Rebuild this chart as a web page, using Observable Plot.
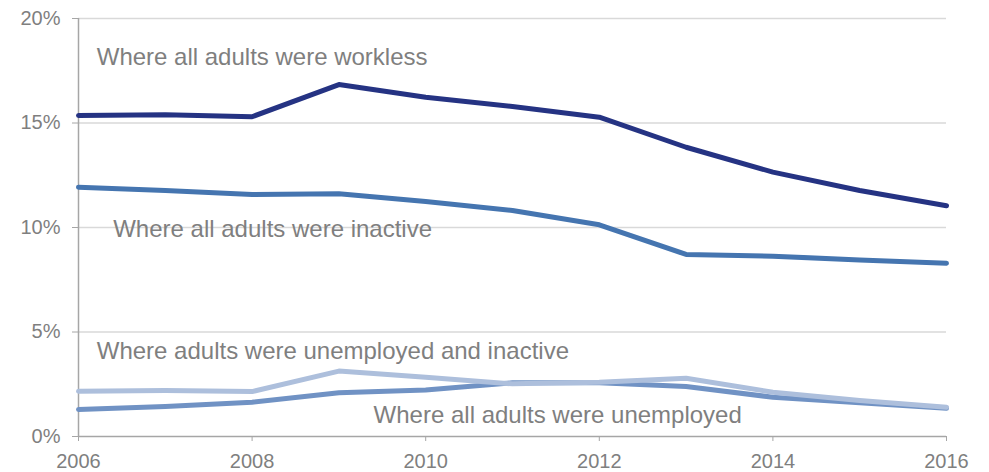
<!DOCTYPE html>
<html>
<head>
<meta charset="utf-8">
<script src="https://cdn.jsdelivr.net/npm/d3@7"></script>
<script src="https://cdn.jsdelivr.net/npm/@observablehq/plot@0.6"></script>
<style>
  html, body { margin: 0; padding: 0; background: #fff; }
  #chart svg { display: block; }
</style>
</head>
<body>
<div id="chart"></div>
<script>
const years = [2006, 2007, 2008, 2009, 2010, 2011, 2012, 2013, 2014, 2015, 2016];
const workless = [15.36, 15.40, 15.30, 16.84, 16.23, 15.79, 15.28, 13.84, 12.65, 11.77, 11.04];
const inactive = [11.93, 11.77, 11.58, 11.61, 11.24, 10.81, 10.13, 8.71, 8.63, 8.45, 8.29];
const unemployedInactive = [2.17, 2.20, 2.15, 3.13, 2.84, 2.52, 2.60, 2.79, 2.12, 1.72, 1.40];
const unemployed = [1.29, 1.43, 1.64, 2.09, 2.23, 2.57, 2.57, 2.39, 1.88, 1.61, 1.35];

const seriesNames = ["Where all adults were inactive", "Where all adults were workless", "Where all adults were unemployed", "Where adults were unemployed and inactive"];
const seriesColors = ["#4575b0", "#253383", "#7092c4", "#adbfdc"];
const seriesValues = [inactive, workless, unemployed, unemployedInactive];

// label anchors (data units: year, percent)
const labelTexts = ["Where all adults were workless", "Where all adults were inactive", "Where adults were unemployed and inactive", "Where all adults were unemployed"];
const labelYears = [2006.21, 2006.40, 2006.21, 2009.40];
const labelValues = [18.13, 9.9, 4.07, 1.0];

const yTicks = [0, 5, 10, 15, 20];
const xTicks = [2006, 2008, 2010, 2012, 2014, 2016];

const rows = [];
seriesNames.forEach((name, i) => {
  years.forEach((yr, j) => rows.push({series: name, year: yr, value: seriesValues[i][j], color: seriesColors[i]}));
});
const labels = labelTexts.map((t, i) => ({text: t, year: labelYears[i], value: labelValues[i]}));

const chart = Plot.plot({
  width: 989,
  height: 472,
  marginLeft: 78,
  marginRight: 43,
  marginTop: 18,
  marginBottom: 36,
  style: {fontFamily: "'Liberation Sans', Arial, sans-serif", fontSize: "20px", color: "#7f7f7f", background: "#fff"},
  x: {domain: [2006, 2016], ticks: xTicks, tickFormat: d => String(d), label: null},
  y: {domain: [0, 20], ticks: yTicks, tickFormat: d => d + "%", label: null},
  marks: [
    Plot.gridY(yTicks.filter(d => d > 0), {stroke: "#d9d9d9", strokeOpacity: 1, strokeWidth: 1.5}),
    Plot.axisX({ticks: xTicks, tickFormat: d => String(d), label: null, tickSize: 5, tickPadding: 12.5, stroke: "#a6a6a6", fill: "#7f7f7f"}),
    Plot.axisY({ticks: yTicks, tickFormat: d => d + "%", label: null, tickSize: 6, tickPadding: 12, stroke: "#a6a6a6", fill: "#7f7f7f"}),
    Plot.ruleY([0], {stroke: "#a6a6a6", strokeWidth: 1.5}),
    Plot.ruleX([2006], {stroke: "#a6a6a6", strokeWidth: 1.5}),
    Plot.line(rows, {x: "year", y: "value", z: "series", stroke: "color", strokeWidth: 5, strokeLinejoin: "round", strokeLinecap: "round"}),
    Plot.text(labels, {x: "year", y: "value", text: "text", textAnchor: "start", fill: "#7f7f7f", fontSize: 24, lineAnchor: "middle"})
  ]
});
document.getElementById("chart").appendChild(chart);
</script>
</body>
</html>
